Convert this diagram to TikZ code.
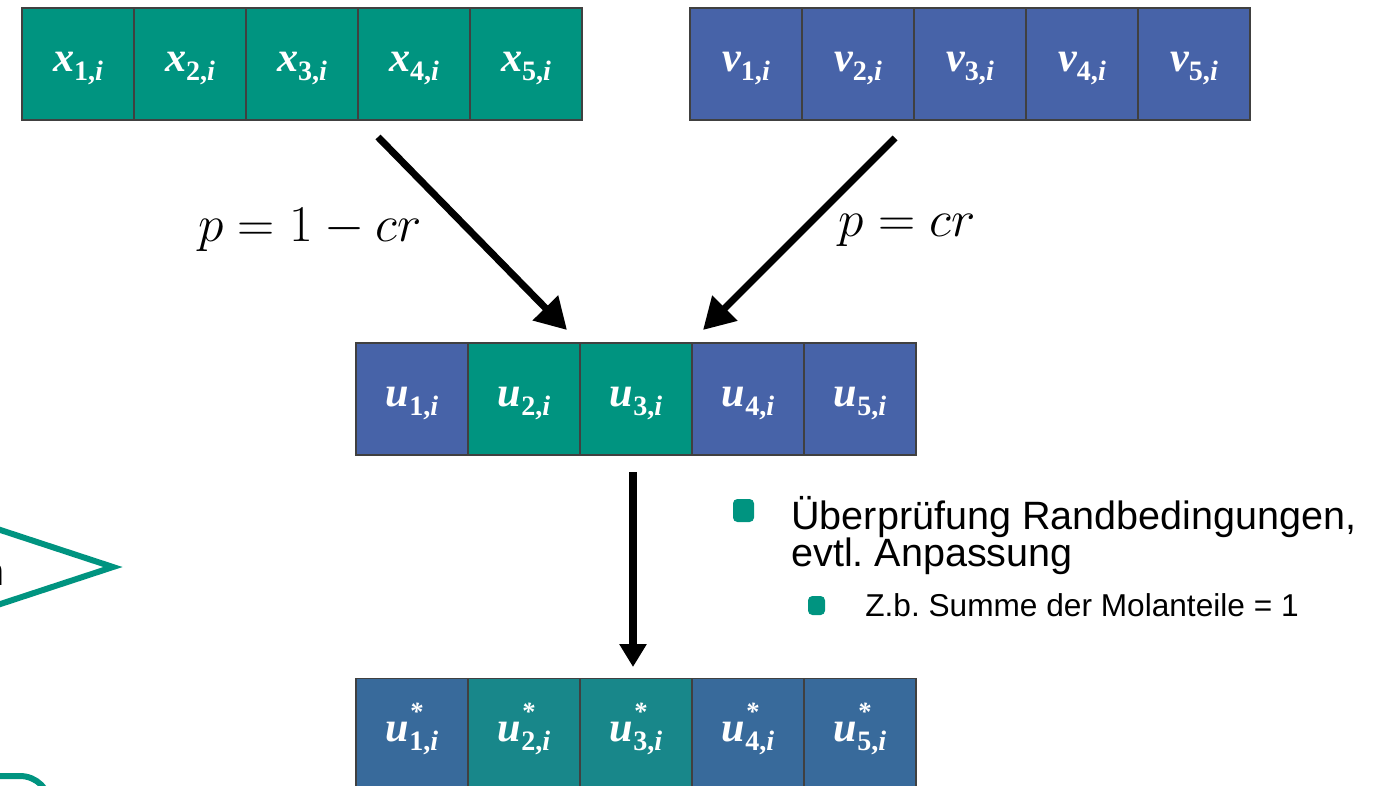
\documentclass[tikz,border=0pt]{standalone}
\usepackage{fontspec}
\setmainfont{Liberation Serif}
\setsansfont{Liberation Sans}
\usetikzlibrary{arrows.meta}

\definecolor{xgreen}{RGB}{0,148,128}
\definecolor{vblue}{RGB}{71,99,168}
\definecolor{sblue}{RGB}{56,106,155}
\definecolor{steal}{RGB}{24,135,138}

% cell texts: bold italic letter, subscript "k,i", optional star
\newcommand{\csub}[1]{\raisebox{-0.22em}{\fontsize{16}{16}\selectfont\upshape #1,\itshape i}}
\newcommand{\cvar}[2]{\raisebox{0pt}[0.58em][0.22em]{#1\csub{#2}}}
\newcommand{\cstar}[2]{\raisebox{0pt}[0.58em][0.22em]{#1\rlap{\raisebox{0.5em}{\fontsize{15}{15}\selectfont *}}\csub{#2}}}

\begin{document}
\frenchspacing
\begin{tikzpicture}[x=0.02cm, y=-0.02cm,
  cell/.style={draw=black!75, line width=0.6pt, minimum width=2.24cm, minimum height=2.24cm,
    inner sep=0pt, text=white, font=\fontsize{24}{26}\selectfont\bfseries\itshape},
  xcell/.style={cell, fill=xgreen},
  vcell/.style={cell, fill=vblue},
  sbcell/.style={cell, fill=sblue},
  stcell/.style={cell, fill=steal},
  bigarrow/.style={line width=4pt, -{Triangle[length=0.62cm, width=0.68cm]}},
  bul/.style={fill=xgreen, rounded corners=2.5pt, inner sep=0pt},
  txt/.style={anchor=base west, inner sep=0pt, font=\sffamily\fontsize{22.5}{23}\selectfont},
  outline/.style={draw=xgreen, line width=3.4pt}]
\useasboundingbox (0,0) rectangle (1381,785);

% parent x
\node[xcell] (x1) at (78,64) {\cvar{x}{1}};
\node[xcell] (x2) at (190,64) {\cvar{x}{2}};
\node[xcell] (x3) at (302,64) {\cvar{x}{3}};
\node[xcell] (x4) at (414,64) {\cvar{x}{4}};
\node[xcell] (x5) at (526,64) {\cvar{x}{5}};

% mutant v
\node[vcell] (v1) at (746,64) {\cvar{v}{1}};
\node[vcell] (v2) at (858,64) {\cvar{v}{2}};
\node[vcell] (v3) at (970,64) {\cvar{v}{3}};
\node[vcell] (v4) at (1082,64) {\cvar{v}{4}};
\node[vcell] (v5) at (1194,64) {\cvar{v}{5}};

% trial u
\node[vcell] (u1) at (412,399) {\cvar{u}{1}};
\node[xcell] (u2) at (524,399) {\cvar{u}{2}};
\node[xcell] (u3) at (636,399) {\cvar{u}{3}};
\node[vcell] (u4) at (748,399) {\cvar{u}{4}};
\node[vcell] (u5) at (860,399) {\cvar{u}{5}};

% corrected u*
\node[sbcell] (w1) at (412,734) {\cstar{u}{1}};
\node[stcell] (w2) at (524,734) {\cstar{u}{2}};
\node[stcell] (w3) at (636,734) {\cstar{u}{3}};
\node[sbcell] (w4) at (748,734) {\cstar{u}{4}};
\node[sbcell] (w5) at (860,734) {\cstar{u}{5}};

\coordinate (xs) at (378,137);
\coordinate (xe) at (567,330);
\coordinate (vs) at (895,138);
\coordinate (ve) at (703,330);
\coordinate (us) at (633,472);
\coordinate (ue) at (633,667);
\path[draw,bigarrow] (xs) -- (xe);
\path[draw,bigarrow] (vs) -- (ve);
\path[draw,line width=4.5pt,-{Triangle[length=0.46cm, width=0.52cm]}] (us) -- (ue);

\node[font=\fontsize{24}{26}\selectfont] (px) at (310,230) {\scalebox{1.18}{$p = 1 - cr$}};
\node[font=\fontsize{24}{26}\selectfont] (pv) at (907,230) {\scalebox{1.18}{$p = cr$}};

% bullet list
\node[bul, minimum width=0.42cm, minimum height=0.46cm] (b1) at (743.5,510.5) {};
\node[txt] (t1) at (791,529) {Überprüfung Randbedingungen,};
\node[txt] (t2) at (791,566) {evtl. Anpassung};
\node[bul, minimum width=0.34cm, minimum height=0.38cm] (b2) at (816.5,605.5) {};
\node[txt, font=\sffamily\fontsize{18}{19}\selectfont] (t3) at (865,616) {Z.b. Summe der Molanteile = 1};

% cut-off shapes at the left edge
\path[draw,outline,line join=miter] (-30,520) -- (113,567) -- (-30,614);
\node[anchor=base east, inner sep=0pt, font=\sffamily\fontsize{22.5}{23}\selectfont] (nn) at (5,585) {n};
\path[draw,outline,rounded corners=0.6cm] (-20,776) -- (50,776) -- (50,830);
\end{tikzpicture}
\end{document}
